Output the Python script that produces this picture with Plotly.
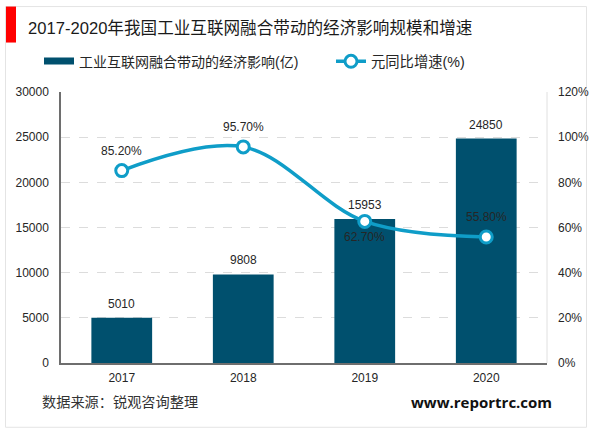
import plotly.graph_objects as go

years = ["2017", "2018", "2019", "2020"]
impact = [5010, 9808, 15953, 24850]
growth = [85.2, 95.7, 62.7, 55.8]
growth_labels = ["85.20%", "95.70%", "62.70%", "55.80%"]
growth_label_shift = [20, 20, -16, 20]
bar_name = "工业互联网融合带动的经济影响(亿)"
line_name = "元同比增速(%)"
title_text = "2017-2020年我国工业互联网融合带动的经济影响规模和增速"
source_text = "数据来源：锐观咨询整理"
site_text = "www.reportrc.com"

FONT = "Liberation Sans, Arial, Noto Sans CJK SC"
W, H = 600, 433
L, R, T, B = 61, 547, 91.5, 362.7
BAR = "#00506E"
LINE = "#0F9DC8"
TXT = "#262626"

def px(x): return (x - L) / (R - L)
def py(y): return (B - y) / (B - T)

fig = go.Figure()
fig.add_trace(go.Bar(x=years, y=impact, marker=dict(color=BAR, line=dict(width=0)), width=0.5,
                     showlegend=False, yaxis="y"))
# legend swatch for the bars
fig.add_trace(go.Scatter(x=[None], y=[None], mode="lines", name=bar_name, yaxis="y", legend="legend",
                         line=dict(color=BAR, width=7)))
fig.add_trace(go.Scatter(x=years, y=growth, mode="lines+markers", name=line_name, yaxis="y2", legend="legend2",
                         line=dict(color=LINE, width=3.5, shape="spline", smoothing=1.0),
                         marker=dict(size=12, color="white", line=dict(color=LINE, width=3))))

shapes = [
    dict(type="rect", xref="paper", yref="paper", x0=px(5.5), x1=px(586.5), y0=py(427), y1=py(6),
         line=dict(color="#E4E4E4", width=1), fillcolor="rgba(0,0,0,0)", layer="below"),
    dict(type="rect", xref="paper", yref="paper", x0=px(6), x1=px(16), y0=py(42), y1=py(6),
         line=dict(width=0), fillcolor="#FF0000"),
    dict(type="line", xref="paper", yref="paper", x0=1, x1=1, y0=0, y1=1,
         line=dict(color="#E0E0E0", width=1), layer="below"),
]
annotations = [
    dict(text=title_text, xref="paper", yref="paper", x=px(26), y=py(28), xanchor="left", yanchor="middle",
         showarrow=False, font=dict(size=16.6, color="#1A1A1A", family=FONT)),
    dict(text=source_text, xref="paper", yref="paper", x=px(40), y=py(402), xanchor="left", yanchor="middle",
         showarrow=False, font=dict(size=14.2, color="#333333", family=FONT)),
    dict(text="<b>" + site_text + "</b>", xref="paper", yref="paper", x=px(554), y=py(402), xanchor="right", yanchor="middle",
         showarrow=False, font=dict(size=15, color="#111111", family="Open Sans")),
]
for i, v in enumerate(impact):
    annotations.append(dict(text=str(v), x=i, y=v, xref="x", yref="y", yshift=14, yanchor="middle",
                            showarrow=False, font=dict(size=12, color=TXT)))
for i, (v, lab, s) in enumerate(zip(growth, growth_labels, growth_label_shift)):
    annotations.append(dict(text=lab, x=i, y=v, xref="x", yref="y2", yshift=s, yanchor="middle",
                            showarrow=False, font=dict(size=12, color=TXT)))

fig.update_layout(
    width=W, height=H, autosize=False,
    margin=dict(l=L, r=W - R, t=T, b=H - B, pad=0),
    paper_bgcolor="white", plot_bgcolor="white",
    font=dict(family=FONT, size=12, color=TXT),
    xaxis=dict(type="category", categoryorder="array", categoryarray=years, range=[-0.5, 3.5],
               showgrid=False, showline=True, linecolor="#6E6E6E", linewidth=1.5,
               ticks="", tickfont=dict(size=12, color=TXT), ticklabelstandoff=3),
    yaxis=dict(range=[0, 30000], tickvals=[0, 5000, 10000, 15000, 20000, 25000, 30000], tickformat="d",
               showgrid=True, gridcolor="#DCDCDC", griddash="dash", gridwidth=1,
               showline=True, linecolor="#6E6E6E", linewidth=1.5, zeroline=False,
               ticks="", tickfont=dict(size=12, color=TXT), ticklabelstandoff=8),
    yaxis2=dict(range=[0, 120], tickvals=[0, 20, 40, 60, 80, 100, 120], ticktext=["0%", "20%", "40%", "60%", "80%", "100%", "120%"],
                overlaying="y", side="right", showgrid=False, showline=False, zeroline=False,
                ticks="", tickfont=dict(size=12, color=TXT), ticklabelstandoff=10),
    legend=dict(x=px(39), y=py(61), xanchor="left", yanchor="middle", bgcolor="rgba(0,0,0,0)",
                font=dict(size=14, color=TXT), itemwidth=30),
    legend2=dict(x=px(331), y=py(61), xanchor="left", yanchor="middle", bgcolor="rgba(0,0,0,0)",
                font=dict(size=14.3, color=TXT), itemwidth=30),
    shapes=shapes, annotations=annotations,
)
fig.write_html("out.html", post_script="document.body.style.margin='0';", config={"displayModeBar": False})
